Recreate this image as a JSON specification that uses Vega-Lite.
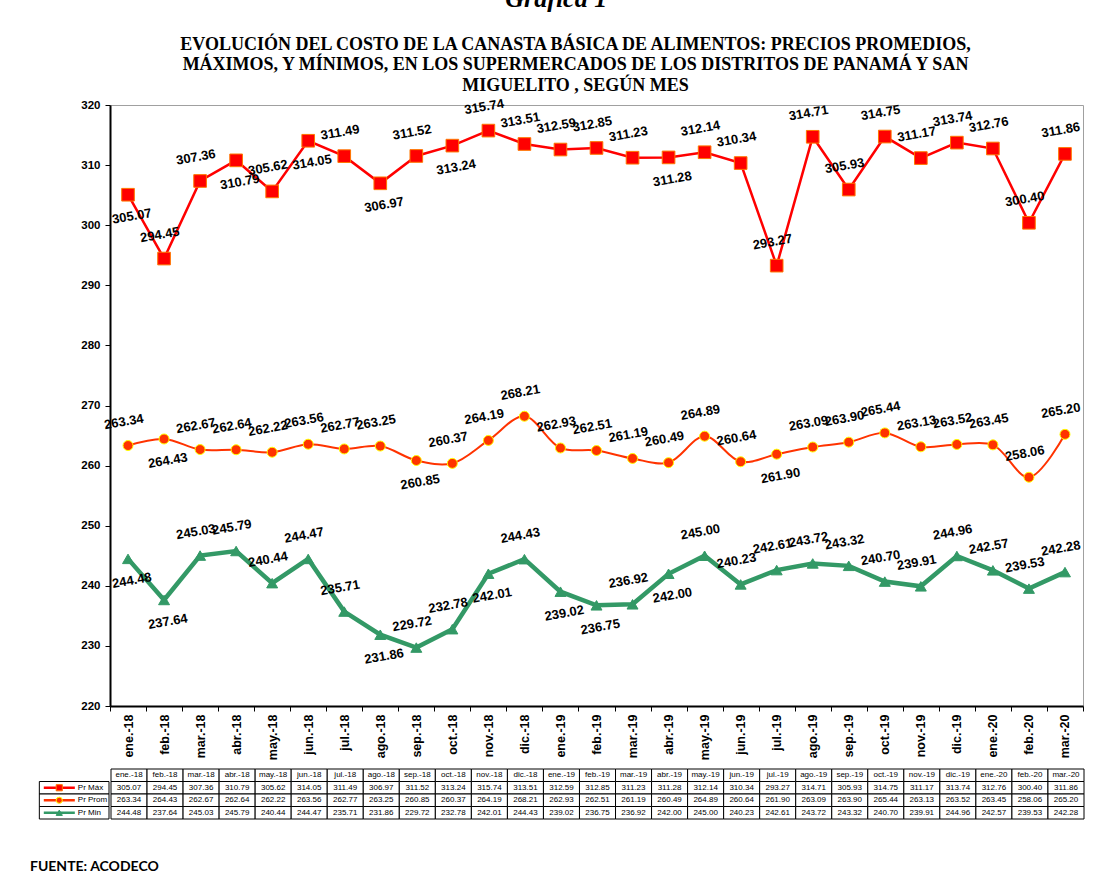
{
  "$schema": "https://vega.github.io/schema/vega-lite/v6.json",
  "background": "white",
  "padding": {"left": 28, "top": -14, "right": 10, "bottom": 0},
  "config": {"view": {"stroke": null}, "font": "Liberation Sans"},
  "title": {"text": "Gráfica 1", "font": "Liberation Serif", "fontStyle": "italic", "fontWeight": "bold", "fontSize": 26, "anchor": "middle", "offset": 23, "color": "black"},
  "datasets": {
    "prices": [
      {"month": "ene.-18", "Pr Máx": 305.07, "Pr Prom": 263.34, "Pr Min": 244.48},
      {"month": "feb.-18", "Pr Máx": 294.45, "Pr Prom": 264.43, "Pr Min": 237.64},
      {"month": "mar.-18", "Pr Máx": 307.36, "Pr Prom": 262.67, "Pr Min": 245.03},
      {"month": "abr.-18", "Pr Máx": 310.79, "Pr Prom": 262.64, "Pr Min": 245.79},
      {"month": "may.-18", "Pr Máx": 305.62, "Pr Prom": 262.22, "Pr Min": 240.44},
      {"month": "jun.-18", "Pr Máx": 314.05, "Pr Prom": 263.56, "Pr Min": 244.47},
      {"month": "jul.-18", "Pr Máx": 311.49, "Pr Prom": 262.77, "Pr Min": 235.71},
      {"month": "ago.-18", "Pr Máx": 306.97, "Pr Prom": 263.25, "Pr Min": 231.86},
      {"month": "sep.-18", "Pr Máx": 311.52, "Pr Prom": 260.85, "Pr Min": 229.72},
      {"month": "oct.-18", "Pr Máx": 313.24, "Pr Prom": 260.37, "Pr Min": 232.78},
      {"month": "nov.-18", "Pr Máx": 315.74, "Pr Prom": 264.19, "Pr Min": 242.01},
      {"month": "dic.-18", "Pr Máx": 313.51, "Pr Prom": 268.21, "Pr Min": 244.43},
      {"month": "ene.-19", "Pr Máx": 312.59, "Pr Prom": 262.93, "Pr Min": 239.02},
      {"month": "feb.-19", "Pr Máx": 312.85, "Pr Prom": 262.51, "Pr Min": 236.75},
      {"month": "mar.-19", "Pr Máx": 311.23, "Pr Prom": 261.19, "Pr Min": 236.92},
      {"month": "abr.-19", "Pr Máx": 311.28, "Pr Prom": 260.49, "Pr Min": 242.00},
      {"month": "may.-19", "Pr Máx": 312.14, "Pr Prom": 264.89, "Pr Min": 245.00},
      {"month": "jun.-19", "Pr Máx": 310.34, "Pr Prom": 260.64, "Pr Min": 240.23},
      {"month": "jul.-19", "Pr Máx": 293.27, "Pr Prom": 261.90, "Pr Min": 242.61},
      {"month": "ago.-19", "Pr Máx": 314.71, "Pr Prom": 263.09, "Pr Min": 243.72},
      {"month": "sep.-19", "Pr Máx": 305.93, "Pr Prom": 263.90, "Pr Min": 243.32},
      {"month": "oct.-19", "Pr Máx": 314.75, "Pr Prom": 265.44, "Pr Min": 240.70},
      {"month": "nov.-19", "Pr Máx": 311.17, "Pr Prom": 263.13, "Pr Min": 239.91},
      {"month": "dic.-19", "Pr Máx": 313.74, "Pr Prom": 263.52, "Pr Min": 244.96},
      {"month": "ene.-20", "Pr Máx": 312.76, "Pr Prom": 263.45, "Pr Min": 242.57},
      {"month": "feb.-20", "Pr Máx": 300.40, "Pr Prom": 258.06, "Pr Min": 239.53},
      {"month": "mar.-20", "Pr Máx": 311.86, "Pr Prom": 265.20, "Pr Min": 242.28}
    ]
  },
  "spacing": 7,
  "vconcat": [
    {
      "spacing": 0,
      "hconcat": [
        {
          "width": 1,
          "height": 601,
          "data": {"values": []},
          "mark": {"type": "rule", "opacity": 0},
          "encoding": {}
        },
        {
          "width": 973,
          "height": 601,
          "view": {"stroke": "#A0A0A0", "strokeWidth": 1},
          "title": {"text": ["EVOLUCIÓN DEL COSTO DE LA CANASTA BÁSICA DE ALIMENTOS: PRECIOS PROMEDIOS,", "MÁXIMOS,  Y MÍNIMOS, EN LOS SUPERMERCADOS DE LOS DISTRITOS DE PANAMÁ Y SAN", "MIGUELITO ,  SEGÚN MES"], "font": "Liberation Serif", "fontSize": 18, "fontWeight": "bold", "lineHeight": 20.5, "anchor": "middle", "dx": -21, "offset": 3, "color": "black"},
          "data": {"name": "prices"},
          "transform": [{"fold": ["Pr Máx", "Pr Prom", "Pr Min"], "as": ["serie", "value"]}],
          "encoding": {
            "x": {"field": "month", "type": "ordinal", "sort": null, "scale": {"type": "band", "paddingInner": 0, "paddingOuter": 0},
              "axis": {"title": null, "labelAngle": -90, "labelFont": "Liberation Sans", "labelFontWeight": "bold", "labelFontSize": 12.5, "labelColor": "black", "tickBand": "extent", "tickColor": "black", "domainColor": "black", "domainWidth": 2, "tickSize": 5, "labelPadding": 3}},
            "y": {"field": "value", "type": "quantitative", "scale": {"domain": [220, 320], "nice": false, "zero": false},
              "axis": {"title": null, "values": [220, 230, 240, 250, 260, 270, 280, 290, 300, 310, 320], "grid": false, "labelFont": "Liberation Sans", "labelFontWeight": "bold", "labelFontSize": 11.5, "labelColor": "black", "domainColor": "black", "domainWidth": 2, "tickColor": "black", "tickSize": 5, "labelPadding": 5, "minExtent": 80, "maxExtent": 80}}
          },
          "layer": [
            {"transform": [{"filter": "datum.serie === 'Pr Máx'"}], "mark": {"type": "line", "color": "#FF0000", "strokeWidth": 2.5}},
            {"transform": [{"filter": "datum.serie === 'Pr Prom'"}], "mark": {"type": "line", "color": "#FF3300", "strokeWidth": 2, "interpolate": "catmull-rom"}},
            {"transform": [{"filter": "datum.serie === 'Pr Min'"}], "mark": {"type": "line", "color": "#339966", "strokeWidth": 4.5}},
            {"transform": [{"filter": "datum.serie === 'Pr Máx'"}], "mark": {"type": "point", "shape": "square", "filled": true, "fill": "#FF0000", "stroke": "#FF7700", "strokeWidth": 1, "size": 160, "opacity": 1}},
            {"transform": [{"filter": "datum.serie === 'Pr Prom'"}], "mark": {"type": "point", "shape": "circle", "filled": true, "fill": "#FF3300", "stroke": "#FFFF00", "strokeWidth": 1, "size": 100, "opacity": 1}},
            {"transform": [{"filter": "datum.serie === 'Pr Min'"}], "mark": {"type": "point", "shape": "triangle-up", "filled": true, "fill": "#339966", "stroke": "#339966", "strokeWidth": 1, "size": 120, "opacity": 1}},
            {"transform": [{"filter": "indexof(['Pr Máx|ene.-18','Pr Máx|abr.-18','Pr Máx|jun.-18','Pr Máx|ago.-18','Pr Máx|oct.-18','Pr Máx|abr.-19','Pr Prom|feb.-18','Pr Prom|sep.-18','Pr Prom|jul.-19','Pr Min|ene.-18','Pr Min|feb.-18','Pr Min|ago.-18','Pr Min|nov.-18','Pr Min|ene.-19','Pr Min|feb.-19','Pr Min|abr.-19'], datum.serie + '|' + datum.month) < 0"}],
              "mark": {"type": "text", "font": "Liberation Sans", "fontWeight": "bold", "fontSize": 13, "angle": 350, "dy": -24, "color": "black"},
              "encoding": {"text": {"field": "value", "type": "quantitative", "format": ".2f"}}},
            {"transform": [{"filter": "indexof(['Pr Máx|ene.-18','Pr Máx|abr.-18','Pr Máx|jun.-18','Pr Máx|ago.-18','Pr Máx|oct.-18','Pr Máx|abr.-19','Pr Prom|feb.-18','Pr Prom|sep.-18','Pr Prom|jul.-19','Pr Min|ene.-18','Pr Min|feb.-18','Pr Min|ago.-18','Pr Min|nov.-18','Pr Min|ene.-19','Pr Min|feb.-19','Pr Min|abr.-19'], datum.serie + '|' + datum.month) >= 0"}],
              "mark": {"type": "text", "font": "Liberation Sans", "fontWeight": "bold", "fontSize": 13, "angle": 350, "dy": 22, "color": "black"},
              "encoding": {"text": {"field": "value", "type": "quantitative", "format": ".2f"}}}
          ]
        }
      ]
    },
    {
      "spacing": 0,
      "title": {"text": "FUENTE: ACODECO", "orient": "bottom", "anchor": "start", "font": "Lato", "fontWeight": "bold", "fontSize": 14, "offset": 40, "dx": 2, "color": "black"},
      "hconcat": [
        {
          "width": 81,
          "height": 50,
          "data": {"values": [{"serie": "Pr Máx"}, {"serie": "Pr Prom"}, {"serie": "Pr Min"}]},
          "encoding": {
            "y": {"field": "serie", "type": "ordinal", "scale": {"domain": ["hdr", "Pr Máx", "Pr Prom", "Pr Min"], "paddingInner": 0, "paddingOuter": 0}, "axis": null}
          },
          "layer": [
            {"mark": {"type": "rect", "fill": "white", "stroke": "black", "strokeWidth": 1},
              "encoding": {"x": {"datum": 0.14, "type": "quantitative", "scale": {"domain": [0, 1]}, "axis": null}, "x2": {"datum": 1}}},
            {"mark": {"type": "rule", "strokeWidth": 2.5},
              "encoding": {"x": {"datum": 0.195, "type": "quantitative", "scale": {"domain": [0, 1]}, "axis": null}, "x2": {"datum": 0.578},
                "color": {"field": "serie", "type": "nominal", "scale": {"domain": ["Pr Máx", "Pr Prom", "Pr Min"], "range": ["#FF0000", "#FF3300", "#339966"]}, "legend": null}}},
            {"mark": {"type": "point", "filled": true, "opacity": 1, "strokeWidth": 1},
              "encoding": {"x": {"datum": 0.386, "type": "quantitative", "scale": {"domain": [0, 1]}, "axis": null},
                "shape": {"field": "serie", "type": "nominal", "scale": {"domain": ["Pr Máx", "Pr Prom", "Pr Min"], "range": ["square", "circle", "triangle-up"]}, "legend": null},
                "fill": {"field": "serie", "type": "nominal", "scale": {"domain": ["Pr Máx", "Pr Prom", "Pr Min"], "range": ["#FF0000", "#FF3300", "#339966"]}, "legend": null},
                "stroke": {"field": "serie", "type": "nominal", "scale": {"domain": ["Pr Máx", "Pr Prom", "Pr Min"], "range": ["#FF7700", "#FFFF00", "#339966"]}, "legend": null},
                "size": {"value": 38}}},
            {"mark": {"type": "text", "align": "left", "font": "Liberation Sans", "fontSize": 8, "color": "black"},
              "encoding": {"x": {"datum": 0.615, "type": "quantitative", "scale": {"domain": [0, 1]}, "axis": null}, "text": {"field": "serie"}}}
          ]
        },
        {
          "width": 973,
          "height": 50,
          "data": {"name": "prices"},
          "transform": [{"fold": ["Pr Máx", "Pr Prom", "Pr Min"], "as": ["serie", "value"]}],
          "encoding": {
            "x": {"field": "month", "type": "ordinal", "sort": null, "scale": {"type": "band", "paddingInner": 0, "paddingOuter": 0}, "axis": null}
          },
          "layer": [
            {"transform": [{"filter": "datum.serie === 'Pr Máx'"}], "mark": {"type": "rect", "fill": "white", "stroke": "black", "strokeWidth": 1},
              "encoding": {"y": {"datum": "hdr", "type": "ordinal", "scale": {"domain": ["hdr", "Pr Máx", "Pr Prom", "Pr Min"], "paddingInner": 0, "paddingOuter": 0}, "axis": null}}},
            {"transform": [{"filter": "datum.serie === 'Pr Máx'"}], "mark": {"type": "text", "font": "Liberation Sans", "fontSize": 8, "color": "black"},
              "encoding": {"y": {"datum": "hdr", "type": "ordinal", "scale": {"domain": ["hdr", "Pr Máx", "Pr Prom", "Pr Min"], "paddingInner": 0, "paddingOuter": 0}, "axis": null}, "text": {"field": "month"}}},
            {"mark": {"type": "rect", "fill": "white", "stroke": "black", "strokeWidth": 1},
              "encoding": {"y": {"field": "serie", "type": "ordinal", "scale": {"domain": ["hdr", "Pr Máx", "Pr Prom", "Pr Min"], "paddingInner": 0, "paddingOuter": 0}, "axis": null}}},
            {"mark": {"type": "text", "font": "Liberation Sans", "fontSize": 8, "color": "black"},
              "encoding": {"y": {"field": "serie", "type": "ordinal", "scale": {"domain": ["hdr", "Pr Máx", "Pr Prom", "Pr Min"], "paddingInner": 0, "paddingOuter": 0}, "axis": null}, "text": {"field": "value", "type": "quantitative", "format": ".2f"}}}
          ]
        }
      ]
    }
  ]
}
